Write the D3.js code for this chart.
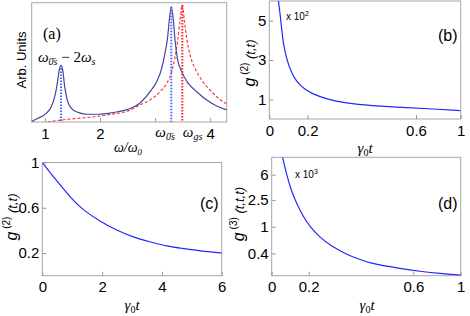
<!DOCTYPE html>
<meta charset="utf-8">
<title>Spectrum and correlations</title>
<style>
body { margin: 0; background: #fff; }
text { font-family: "Liberation Sans", Arial, sans-serif; }
.serif { font-family: "Liberation Serif", "DejaVu Serif", serif; font-style: italic; }
.tick line { stroke: #999; }
.tick text { fill: #000; }
</style>
<body>
<script src="https://cdn.jsdelivr.net/npm/d3@7"></script>
<script>

var width = 470, height = 316;

// (a) spectrum, arbitrary units
var blueW = [0.76, 0.874, 1.025, 1.116, 1.178, 1.225, 1.261, 1.292, 1.323, 1.359, 1.406, 1.479, 1.601, 1.782, 1.964, 2.145, 2.327, 2.508, 2.726, 2.908, 3.029, 3.12, 3.18, 3.229, 3.258, 3.294, 3.331, 3.362, 3.403, 3.483, 3.603, 3.756, 3.937, 4.119, 4.3];
var blueS = [0.004, 0.031, 0.073, 0.128, 0.212, 0.324, 0.436, 0.474, 0.436, 0.296, 0.184, 0.115, 0.081, 0.065, 0.065, 0.073, 0.086, 0.106, 0.159, 0.254, 0.338, 0.45, 0.578, 0.715, 0.855, 0.966, 0.855, 0.687, 0.536, 0.422, 0.324, 0.254, 0.184, 0.134, 0.101];
var redW = [1.05, 1.297, 1.6, 1.904, 2.205, 2.508, 2.726, 2.908, 3.089, 3.211, 3.302, 3.362, 3.411, 3.452, 3.494, 3.53, 3.574, 3.634, 3.725, 3.846, 3.997, 4.148, 4.3];
var redS = [0, 0.017, 0.031, 0.044, 0.065, 0.092, 0.143, 0.184, 0.254, 0.324, 0.422, 0.547, 0.687, 0.855, 0.981, 0.855, 0.702, 0.562, 0.45, 0.352, 0.268, 0.199, 0.151];
var peaksW = [1.292, 3.294, 3.494];
var peaksS = [0.474, 0.966, 0.981];
var ticksA = [1, 2, 3, 4];

// (b) g2 x10^2
var bT = [0.047, 0.056, 0.065, 0.073, 0.091, 0.117, 0.143, 0.178, 0.221, 0.27, 0.332, 0.393, 0.424, 0.547, 0.77, 1.0];
var bG = [6.05, 5.38, 4.53, 3.85, 3.0, 2.32, 1.9, 1.56, 1.25, 1.02, 0.83, 0.73, 0.69, 0.59, 0.51, 0.42];
var ticksBX = [0, 0.2, 0.6, 1];
var ticksBY = [1, 3, 5];

// (c) g2
var cT = [0, 0.26, 0.54, 0.82, 1.09, 1.37, 1.93, 2.49, 3.04, 3.6, 4.16, 4.72, 5.27, 6];
var cG = [1, 0.91, 0.82, 0.73, 0.65, 0.58, 0.48, 0.4, 0.34, 0.3, 0.26, 0.24, 0.22, 0.2];
var ticksCX = [0, 2, 4, 6];
var ticksCY = [0.2, 0.6, 1];

// (d) g3 x10^3
var dT = [0.059, 0.081, 0.108, 0.135, 0.171, 0.205, 0.243, 0.281, 0.332, 0.384, 0.434, 0.549, 0.657, 0.825, 1.0];
var dG = [10.86, 5.91, 3.33, 2.23, 1.41, 1.0, 0.695, 0.533, 0.409, 0.338, 0.284, 0.239, 0.216, 0.2, 0.19];
var ticksDY = [0.4, 1, 2.5, 6];

var svg = d3.select("body").append("svg")
    .attr("width", width)
    .attr("height", height);

function zip(xs, ys) { return xs.map(function(x, i) { return [x, ys[i]]; }); }

function frame(g, x0, y0, x1, y1, id) {
    g.append("clipPath").attr("id", id)
      .append("rect").attr("x", x0).attr("y", y0).attr("width", x1 - x0).attr("height", y1 - y0);
    g.append("rect")
      .attr("x", x0).attr("y", y0).attr("width", x1 - x0).attr("height", y1 - y0)
      .attr("fill", "none").attr("stroke", "#a6a6a6").attr("stroke-width", 1);
}

function axes(g, x, y, y1, x0, xt, yt, fmtx, fmty) {
    var ax = g.append("g").attr("transform", "translate(0," + y1 + ")")
        .call(d3.axisBottom(x).tickValues(xt).tickSize(-4).tickPadding(6).tickFormat(fmtx));
    ax.select(".domain").remove();
    ax.selectAll("text").attr("font-size", 15);
    if (yt) {
        var ay = g.append("g").attr("transform", "translate(" + x0 + ",0)")
            .call(d3.axisLeft(y).tickValues(yt).tickSize(-4).tickPadding(3).tickFormat(fmty));
        ay.select(".domain").remove();
        ay.selectAll("text").attr("font-size", 15);
    }
}

function curve(g, x, y, pts, color, id, shape) {
    g.append("path")
      .attr("clip-path", "url(#" + id + ")")
      .attr("d", d3.line().x(function(d) { return x(d[0]); }).y(function(d) { return y(d[1]); })
        .curve(shape || d3.curveBasis)(pts))
      .attr("fill", "none").attr("stroke", color).attr("stroke-width", 1.2);
}

// ---------- (a)
var ga = svg.append("g");
var xa = d3.scaleLinear().domain([0.76, 4.3]).range([31.7, 226.7]);
var ya = d3.scaleLinear().domain([0, 1]).range([122, 2.7]);
frame(ga, 31.7, 2.7, 226.7, 122, "clipA");
axes(ga, xa, ya, 122, 31.7, ticksA, null, function(d) { return d == 3 ? "" : d; });

ga.append("path")
  .attr("clip-path", "url(#clipA)")
  .attr("d", d3.line().x(function(d) { return xa(d[0]); }).y(function(d) { return ya(d[1]); })
    .curve(d3.curveMonotoneX)(zip(redW, redS)))
  .attr("fill", "none").attr("stroke", "#ff3a3a").attr("stroke-width", 1.2)
  .attr("stroke-dasharray", "3,2");
curve(ga, xa, ya, zip(blueW, blueS), "#45459a", "clipA", d3.curveMonotoneX);

// dotted peak markers
peaksW.forEach(function(w, i) {
    ga.append("line")
      .attr("x1", xa(w)).attr("x2", xa(w))
      .attr("y1", ya(peaksS[i])).attr("y2", ya(0))
      .attr("stroke", i == 2 ? "#ff2020" : "#4466ff")
      .attr("stroke-width", 2)
      .attr("stroke-dasharray", "1.5,1.5");
});

ga.append("text").attr("class", "serif").attr("x", 43).attr("y", 39)
  .attr("font-size", 16).style("font-style", "normal").text("(a)");

var t1 = ga.append("text").attr("class", "serif").attr("x", 38).attr("y", 62).attr("font-size", 15);
t1.append("tspan").text("ω");
t1.append("tspan").attr("dy", 3).attr("font-size", 10).text("0\u0304s");
t1.append("tspan").attr("dy", -3).style("font-style", "normal").text(" − 2");
t1.append("tspan").text("ω");
t1.append("tspan").attr("dy", 3).attr("font-size", 10).text("s");

var t2 = ga.append("text").attr("class", "serif").attr("x", xa(peaksW[1]) - 16).attr("y", 137).attr("font-size", 15);
t2.append("tspan").text("ω");
t2.append("tspan").attr("dy", 3).attr("font-size", 10).text("0\u0304s");
var t3 = ga.append("text").attr("class", "serif").attr("x", xa(peaksW[2]) + 0.5).attr("y", 137).attr("font-size", 15);
t3.append("tspan").text("ω");
t3.append("tspan").attr("dy", 3).attr("font-size", 10).text("gs");

var t4 = ga.append("text").attr("class", "serif").attr("x", 128).attr("y", 152)
  .attr("text-anchor", "middle").attr("font-size", 14);
t4.append("tspan").text("ω/ω");
t4.append("tspan").attr("dy", 3).attr("font-size", 9).text("0");

ga.append("text").attr("transform", "translate(26,60) rotate(-90)")
  .attr("text-anchor", "middle").attr("font-size", 13).text("Arb. Units");

// ---------- (b)
var gb = svg.append("g");
var xb = d3.scaleLinear().domain([0, 0.2, 0.6, 1]).range([269.3, 307.6, 416, 460.7]);
var yb = d3.scaleLinear().domain([0, 6]).range([119, 1]);
frame(gb, 269.3, 1, 460.7, 119, "clipB");
axes(gb, xb, yb, 119, 269.3, ticksBX, ticksBY, d3.format(""), d3.format(""));
curve(gb, xb, yb, zip(bT, bG), "#2525ff", "clipB");

// ---------- (c)
var gc = svg.append("g");
var xc = d3.scaleLinear().domain([0, 6]).range([42.3, 221.7]);
var yc = d3.scaleLinear().domain([0, 1]).range([275.7, 162.5]);
frame(gc, 42.3, 162.5, 221.7, 275.7, "clipC");
axes(gc, xc, yc, 275.7, 42.3, ticksCX, ticksCY, d3.format(""), d3.format(""));
curve(gc, xc, yc, zip(cT, cG), "#2525ff", "clipC");

// ---------- (d)
var gd = svg.append("g");
var xd = d3.scaleLinear().domain([0, 0.2, 0.6, 1]).range([271.7, 308.7, 413.3, 460.7]);
var yd = d3.scaleLog().domain([0.186, 10.9]).range([275.7, 157.3]);
frame(gd, 271.7, 157.3, 460.7, 275.7, "clipD");
axes(gd, xd, yd, 275.7, 271.7, ticksBX, ticksDY, d3.format(""), d3.format(""));
curve(gd, xd, yd, zip(dT, dG), "#2525ff", "clipD");

// labels for b, c, d
function gammaLabel(x, y) {
    var t = svg.append("text").attr("class", "serif").attr("x", x).attr("y", y)
      .attr("text-anchor", "middle").attr("font-size", 15);
    t.append("tspan").text("γ");
    t.append("tspan").attr("dy", 3).attr("font-size", 10).style("font-style", "normal").text("0");
    t.append("tspan").attr("dy", -3).text("t");
}
gammaLabel(365, 153);
gammaLabel(132, 310);
gammaLabel(367, 310);

function gLabel(x, y, order, args) {
    var t = svg.append("text").attr("transform", "translate(" + x + "," + y + ") rotate(-90)")
      .attr("text-anchor", "middle").attr("font-size", 16).style("font-style", "italic");
    t.append("tspan").text("g");
    t.append("tspan").attr("dy", -7).attr("font-size", 10).style("font-style", "normal").text(" (" + order + ")");
    t.append("tspan").attr("dy", 7).attr("font-size", 13).text("  " + args);
}
gLabel(255, 63, 2, "(t,t)");
gLabel(17, 217, 2, "(t,t)");
gLabel(244, 214, 3, "(t,t,t)");

function tag(x, y, s) {
    svg.append("text").attr("x", x).attr("y", y).attr("font-size", 16).text(s);
}
tag(438, 41, "(b)");
tag(200, 209, "(c)");
tag(438, 209, "(d)");

function scaleNote(x, y, p) {
    var t = svg.append("text").attr("x", x).attr("y", y).attr("font-size", 10);
    t.append("tspan").text("x 10");
    t.append("tspan").attr("dy", -4).attr("font-size", 7).text(p);
}
scaleNote(286, 20, "2");
scaleNote(295, 178, "3");

</script>
</body>
